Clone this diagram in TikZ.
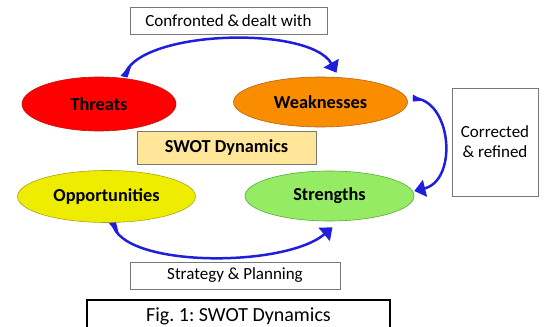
\documentclass[tikz,border=0pt]{standalone}
\usepackage{fontspec}
\setmainfont{Carlito}
\usetikzlibrary{shapes.geometric,arrows.meta,calc}
\definecolor{arrowblue}{RGB}{30,30,220}
\definecolor{thrfill}{RGB}{255,0,0}
\definecolor{thrline}{RGB}{190,20,20}
\definecolor{weakfill}{RGB}{250,140,0}
\definecolor{weakline}{RGB}{180,100,20}
\definecolor{oppfill}{RGB}{238,236,0}
\definecolor{oppline}{RGB}{170,165,20}
\definecolor{strfill}{RGB}{150,235,100}
\definecolor{strline}{RGB}{90,170,60}
\definecolor{swotfill}{RGB}{255,230,153}
\definecolor{boxline}{RGB}{120,120,120}
\frenchspacing
\begin{document}
\begin{tikzpicture}[x=1pt,y=-1pt,
  oval/.style={ellipse,draw,line width=0.6pt,inner sep=0pt,text=black,
    font=\fontsize{18.3}{20}\selectfont\bfseries},
  labelbox/.style={rectangle,draw=boxline,line width=0.8pt,fill=white,inner sep=0pt,
    font=\fontsize{17}{20}\selectfont,align=center},
  flow/.style={draw=arrowblue,line width=2.5pt,
    -{Triangle[length=11pt,width=17pt]}},
  taper/.style={fill=arrowblue}]
\useasboundingbox (0,0) rectangle (545,326);
\clip (0,0) rectangle (545,326);

% ellipses
\node[oval,fill=thrfill,draw=thrline,minimum width=154pt,minimum height=54pt] (T) at (99,104) {Threats};
\node[oval,fill=weakfill,draw=weakline,minimum width=174pt,minimum height=50pt] (W) at (320.5,102) {Weaknesses};
\node[oval,fill=oppfill,draw=oppline,minimum width=178pt,minimum height=52pt] (O) at (106.5,196.5) {Opportunities};
\node[oval,fill=strfill,draw=strline,minimum width=169pt,minimum height=50pt] (S) at (329.5,196) {Strengths};

% label boxes
\node[labelbox,minimum width=197pt,minimum height=27pt] (conf) at (228.5,20.5) {Confronted \&\,dealt with};
\node[labelbox,fill=swotfill,minimum width=179pt,minimum height=33pt,
  font=\fontsize{18.3}{20}\selectfont\bfseries] (swot) at (226.5,147.5) {SWOT Dynamics};
\node[labelbox,minimum width=86pt,minimum height=108pt] (corr) at (495,142) {Corrected\\\& refined};
\node[labelbox,minimum width=210pt,minimum height=27pt] (strat) at (235,275.5) {Strategy \& Planning};

% figure caption box (bottom edge cut by the page)
\draw[line width=2.4pt,black] (87,300) rectangle (390,345);
\node[anchor=base,font=\fontsize{20}{22}\selectfont,inner sep=0pt] (cap) at (238.5,321) {Fig. 1: SWOT Dynamics};

% connectors
\coordinate (ts) at ([xshift=25pt]T.north);
\coordinate (te) at ([xshift=16pt,yshift=4pt]W.north);
\draw[flow] (ts) .. controls +(11,-47) and +(-27,-48) .. (te) coordinate[pos=0.1] (ta);
\fill[taper] ($(ts)+(3.6,0.8)$) -- (ta) -- ($(ts)+(-3.6,-0.8)$) -- cycle;

\coordinate (rs) at ([xshift=5pt,yshift=4pt]W.east);
\coordinate (re) at ([yshift=5pt]S.east);
\draw[flow] (rs) .. controls +(39,1) and +(44,-11) .. (re) coordinate[pos=0.1] (ra);
\fill[taper] ($(rs)+(0,3.6)$) -- (ra) -- ($(rs)+(0,-3.6)$) -- cycle;

\coordinate (bs) at ([xshift=6pt]O.south);
\coordinate (be) at ([xshift=3pt,yshift=-6pt]S.south);
\draw[flow] (bs) .. controls +(7,45) and +(-48,41) .. (be) coordinate[pos=0.1] (ba);
\fill[taper] ($(bs)+(3.6,-0.5)$) -- (ba) -- ($(bs)+(-3.6,0.5)$) -- cycle;
\end{tikzpicture}
\end{document}
